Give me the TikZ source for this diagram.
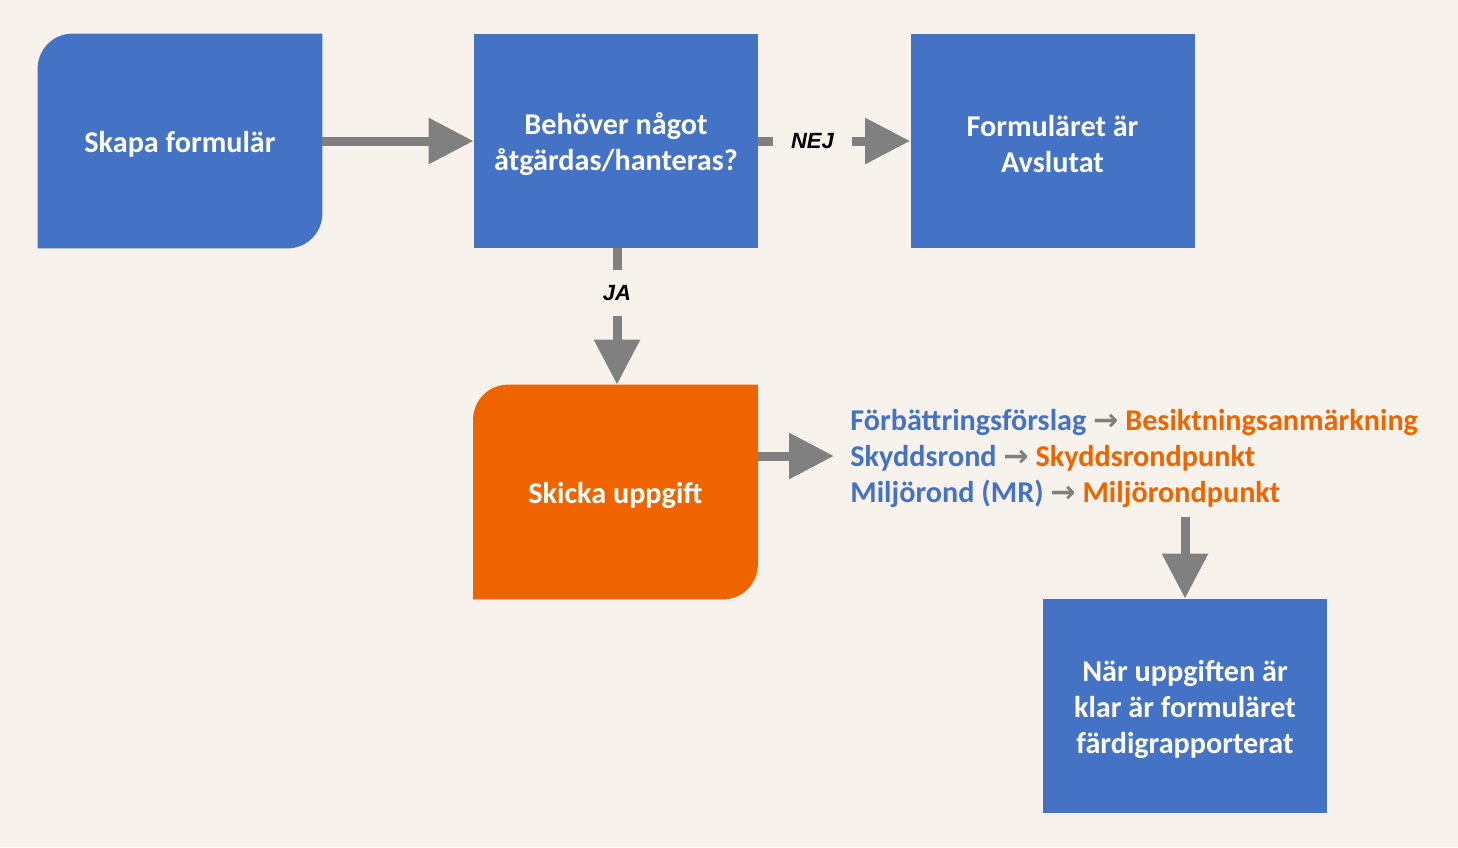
\documentclass[tikz,border=0pt]{standalone}
\usepackage{fontspec}
\setmainfont{Carlito}
\newfontfamily\labelfont{Liberation Sans}
\newfontfamily\arrfont{DejaVu Sans}
\usetikzlibrary{arrows.meta}
\definecolor{bg}{HTML}{F7F2EC}
\definecolor{boxblue}{HTML}{4472C4}
\definecolor{boxorange}{HTML}{F06400}
\definecolor{arrgray}{HTML}{808080}
\tikzset{
  box/.style={minimum width=142pt, minimum height=107pt, inner sep=0pt},
  boxtext/.style={inner sep=0pt, align=center, yshift=-1.5pt,
    text=white, font=\fontsize{15.1pt}{18pt}\selectfont\bfseries},
  flow/.style={draw=arrgray, line width=4.5pt},
  flowtip/.style={flow, -{Triangle[length=22.5pt, width=22pt]}},
  yesno/.style={inner sep=0pt, font=\labelfont\fontsize{11pt}{13pt}\selectfont\bfseries\itshape},
}
\newcommand{\rndbox}[2]{%
  \fill[#2] (#1.north east) -- ([yshift=17.5pt]#1.south east)
    arc[start angle=0, end angle=-90, radius=17.5pt] -- (#1.south west)
    -- ([yshift=-17.5pt]#1.north west)
    arc[start angle=180, end angle=90, radius=17.5pt] -- cycle;}
\begin{document}
\begin{tikzpicture}[x=0.5pt, y=-0.5pt]
\fill[bg] (0,0) rectangle (1458,847);
\useasboundingbox (0,0) rectangle (1458,847);
% boxes
\node[box] (skapa) at (180,141) {};
\rndbox{skapa}{boxblue}
\node[boxtext] (skapaT) at (skapa.center) {Skapa formulär};
\node[box, fill=boxblue] (behov) at (616,141) {};
\node[boxtext] (behovT) at (behov.center) {Behöver något\\åtgärdas/hanteras?};
\node[box, fill=boxblue] (avslut) at (1052.5,141) {};
\node[boxtext] (avslutT) at (avslut.center) {Formuläret är\\Avslutat};
\node[box] (skicka) at (615.5,492) {};
\rndbox{skicka}{boxorange}
\node[boxtext] (skickaT) at (skicka.center) {Skicka uppgift};
\node[box, fill=boxblue] (klar) at (1185,706) {};
\node[boxtext] (klarT) at (klar.center) {När uppgiften är\\klar är formuläret\\färdigrapporterat};
% labels
\node[yesno, minimum width=39.5pt, minimum height=10pt] (nej) at (812.5,141) {NEJ};
\node[yesno, minimum height=23pt, minimum width=20pt] (ja) at (617,293) {JA};
% list
\node[inner xsep=8pt, inner ysep=0pt, anchor=west, align=left,
      font=\fontsize{15.1pt}{18pt}\selectfont\bfseries] (list) at (834,458)
 {\textcolor{boxblue}{Förbättringsförslag} \textcolor{arrgray}{\arrfont →} \textcolor{boxorange}{Besiktningsanmärkning}\\
  \textcolor{boxblue}{Skyddsrond} \textcolor{arrgray}{\arrfont →} \textcolor{boxorange}{Skyddsrondpunkt}\\
  \textcolor{boxblue}{Miljörond (MR)} \textcolor{arrgray}{\arrfont →} \textcolor{boxorange}{Miljörondpunkt}};
\coordinate (down) at (1185,517);
\coordinate (listin) at (834,456);
% connectors
\draw[flowtip] (skapa.east) -- (behov.west);
\draw[flow] (behov.east) -- (nej.west);
\draw[flowtip] (nej.east) -- (avslut.west);
\draw[flow] (behov.south -| ja.north) -- (ja.north);
\draw[flowtip] (ja.south) -- (skicka.north -| ja.south);
\draw[flowtip] (skicka.east |- listin) -- (listin);
\draw[flowtip] (down) -- (klar.north);
\end{tikzpicture}
\end{document}
